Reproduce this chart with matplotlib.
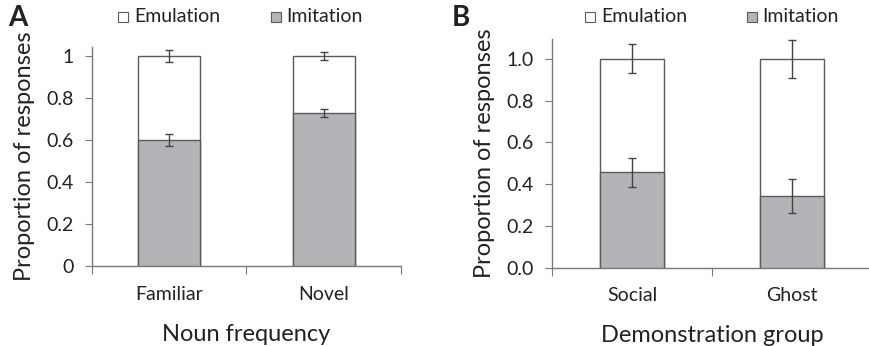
import matplotlib
matplotlib.use("Agg")
import matplotlib.pyplot as plt
from matplotlib.patches import Rectangle

plt.rcParams['font.family'] = ['Lato', 'DejaVu Sans']

# Panel A data
cats_a = ["Familiar", "Novel"]
imit_a = [0.60, 0.73]
imit_err_a = [0.03, 0.018]
total_a = [1.0, 1.0]
total_err_a = [0.03, 0.02]
yticks_a = [0, 0.2, 0.4, 0.6, 0.8, 1]
yticklabels_a = ["0", "0.2", "0.4", "0.6", "0.8", "1"]

# Panel B data
cats_b = ["Social", "Ghost"]
imit_b = [0.457, 0.343]
imit_err_b = [0.069, 0.08]
total_b = [1.0, 1.0]
total_err_b = [0.07, 0.09]
yticks_b = [0.0, 0.2, 0.4, 0.6, 0.8, 1.0]
yticklabels_b = ["0.0", "0.2", "0.4", "0.6", "0.8", "1.0"]

GRAY = "#b3b4b7"
EDGE = "#5a5a5a"
SPINE = "#7a7a7a"
TXT = "#222222"

fig = plt.figure(figsize=(8.69, 3.46), dpi=100)
axA = fig.add_axes([0.1059, 0.2303, 0.3555, 0.6338])
axB = fig.add_axes([0.6352, 0.2254, 0.3682, 0.6618])


def draw(ax, cats, imit, ierr, total, terr, ylim, yt, ytl, xlabel):
    x = list(range(len(cats)))
    w = 0.4
    ax.bar(x, total, width=w, color="white", edgecolor=EDGE, linewidth=1.0, zorder=2)
    ax.bar(x, imit, width=w, color=GRAY, edgecolor=EDGE, linewidth=1.0, zorder=3)
    ax.errorbar(x, total, yerr=terr, fmt="none", ecolor="#444444", elinewidth=1.0,
                capsize=3, capthick=1.0, zorder=4)
    ax.errorbar(x, imit, yerr=ierr, fmt="none", ecolor="#444444", elinewidth=1.0,
                capsize=3, capthick=1.0, zorder=4)
    ax.set_xlim(-0.5, len(cats) - 0.5)
    ax.set_ylim(0, ylim)
    for s in ["top", "right"]:
        ax.spines[s].set_visible(False)
    for s in ["left", "bottom"]:
        ax.spines[s].set_color(SPINE)
        ax.spines[s].set_linewidth(1.0)
    ax.set_xticks([i - 0.5 for i in range(len(cats) + 1)])
    ax.set_xticklabels([])
    ax.set_xticks(x, minor=True)
    ax.set_xticklabels(cats, minor=True, fontsize=14, color=TXT)
    ax.tick_params(axis="x", which="minor", length=0, pad=14)
    ax.tick_params(axis="x", which="major", length=6, color=SPINE, direction="out")
    ax.set_yticks(yt)
    ax.set_yticklabels(ytl, fontsize=14, color=TXT)
    ax.tick_params(axis="y", length=5, color=SPINE, pad=8)
    ax.set_ylabel("Proportion of responses", fontsize=17, color=TXT, labelpad=8)
    ax.set_xlabel(xlabel, fontsize=17, color=TXT, labelpad=15)


draw(axA, cats_a, imit_a, imit_err_a, total_a, total_err_a, 1.043,
     yticks_a, yticklabels_a, "Noun frequency")
draw(axB, cats_b, imit_b, imit_err_b, total_b, total_err_b, 1.094,
     yticks_b, yticklabels_b, "Demonstration group")


def legend(fx_sq1, fx_sq2, fy):
    s = 10 / 869
    sh = 10 / 346
    fig.patches.append(Rectangle((fx_sq1, fy - sh / 2), s, sh, transform=fig.transFigure,
                                 facecolor="white", edgecolor=EDGE, linewidth=0.8))
    fig.text(fx_sq1 + 16 / 869, fy, "Emulation", fontsize=14, va="center", ha="left", color=TXT)
    fig.patches.append(Rectangle((fx_sq2, fy - sh / 2), s, sh, transform=fig.transFigure,
                                 facecolor=GRAY, edgecolor=EDGE, linewidth=0.8))
    fig.text(fx_sq2 + 15 / 869, fy, "Imitation", fontsize=14, va="center", ha="left", color=TXT)


legend(118 / 869, 271 / 869, 1 - 17 / 346)
legend(585 / 869, 747 / 869, 1 - 17 / 346)

fig.text(8 / 869, 1 - 18 / 346, "A", fontsize=20, fontweight="bold", va="center", ha="left", color=TXT)
fig.text(452 / 869, 1 - 18 / 346, "B", fontsize=20, fontweight="bold", va="center", ha="left", color=TXT)

fig.savefig("out.png", dpi=100)
